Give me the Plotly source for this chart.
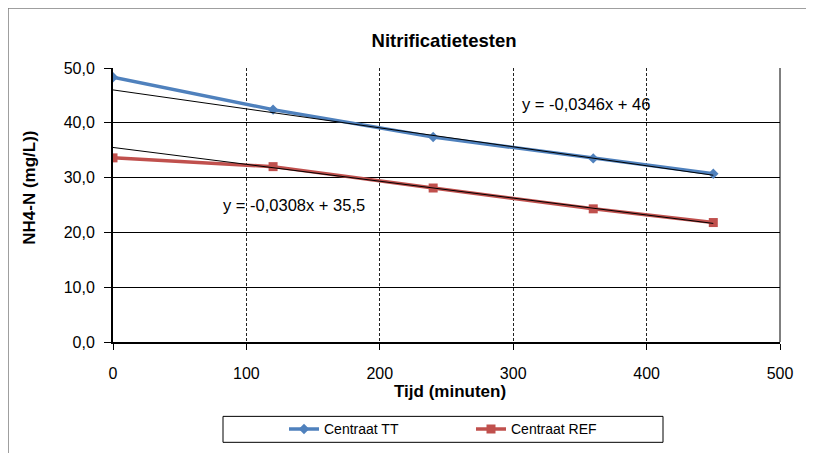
import plotly.graph_objects as go

tijd = [0, 120, 240, 360, 450]
centraat_tt = [48.3, 42.4, 37.4, 33.5, 30.7]
centraat_ref = [33.6, 32.0, 28.1, 24.3, 21.8]
trend_tt = (-0.0346, 46.0)
trend_ref = (-0.0308, 35.5)
trend_x = [0, 450]
eq_tt = "y = -0,0346x + 46"
eq_ref = "y = -0,0308x + 35,5"

OFF = 8  # page body margin
W, H = 806, 445
L, R, T, B = 105, 34, 60, 110.5
pw, ph = W - L - R, H - T - B


def px(xs):
    return (xs - OFF - L) / pw


def py(ys):
    return (H - B - (ys - OFF)) / ph


fig = go.Figure()
fig.add_trace(go.Scatter(x=tijd, y=centraat_tt, mode="lines+markers", name="Centraat TT",
                         line=dict(color="#4F81BD", width=3.5),
                         marker=dict(symbol="diamond", size=8, color="#4F81BD")))
fig.add_trace(go.Scatter(x=tijd, y=centraat_ref, mode="lines+markers", name="Centraat REF",
                         line=dict(color="#C0504D", width=3.5),
                         marker=dict(symbol="square", size=9, color="#C0504D")))
for m, c in (trend_tt, trend_ref):
    fig.add_trace(go.Scatter(x=trend_x, y=[m * x + c for x in trend_x], mode="lines",
                             line=dict(color="black", width=1), showlegend=False, hoverinfo="skip"))

fig.add_annotation(x=px(586), y=py(104), xref="paper", yref="paper", text=eq_tt, showarrow=False,
                   xanchor="center", yanchor="middle",
                   font=dict(family="Liberation Sans, Arial", size=16.5, color="black"))
fig.add_annotation(x=px(294), y=py(205), xref="paper", yref="paper", text=eq_ref, showarrow=False,
                   xanchor="center", yanchor="middle",
                   font=dict(family="Liberation Sans, Arial", size=16.5, color="black"))
# axis titles
fig.add_annotation(x=px(450), y=py(392), xref="paper", yref="paper", text="<b>Tijd (minuten)</b>",
                   showarrow=False, xanchor="center", yanchor="middle",
                   font=dict(family="Liberation Sans, Arial", size=17, color="black"))
fig.add_annotation(x=px(30), y=py(188), xref="paper", yref="paper", text="<b>NH4-N (mg/L))</b>",
                   showarrow=False, xanchor="center", yanchor="middle", textangle=-90,
                   font=dict(family="Liberation Sans, Arial", size=17, color="black"))

# outer chart border
fig.add_shape(type="rect", xref="paper", yref="paper", x0=px(8), x1=px(808), y0=py(470), y1=py(8),
              line=dict(color="#808080", width=1.5), layer="below")
# legend box
fig.add_shape(type="rect", xref="paper", yref="paper", x0=px(223), x1=px(663), y0=py(443), y1=py(417),
              line=dict(color="black", width=1), layer="below")
# right plot-area border
fig.add_shape(type="line", xref="paper", yref="paper", x0=1, x1=1, y0=0, y1=1,
              line=dict(color="black", width=1))

fig.update_layout(
    width=W, height=H,
    margin=dict(l=L, r=R, t=T, b=B, autoexpand=False),
    paper_bgcolor="white", plot_bgcolor="white",
    separators=",.",
    font=dict(family="Liberation Sans, Arial", size=16, color="black"),
    title=dict(text="<b>Nitrificatietesten</b>", x=px(444), xanchor="center", xref="paper",
               y=1 - (41 - OFF) / H, yanchor="middle",
               font=dict(family="Liberation Sans, Arial", size=18.5, color="black")),
    xaxis=dict(range=[0, 500], dtick=100, showgrid=True, gridcolor="#222222", griddash="3px,2px",
               gridwidth=1,
               showline=True, linecolor="black", linewidth=2, mirror=False, zeroline=False,
               ticks="outside", ticklen=6, tickcolor="black", automargin=False,
               ticklabelstandoff=10, tickfont=dict(size=16)),
    yaxis=dict(range=[0, 50], dtick=10, tickformat=".1f", showgrid=True, gridcolor="black", gridwidth=1,
               showline=True, linecolor="black", linewidth=2, zeroline=False,
               ticks="outside", ticklen=7, tickcolor="black", automargin=False,
               ticklabelstandoff=6, tickfont=dict(size=16)),
    legend=dict(orientation="h", x=px(284), xanchor="left", y=py(430), yanchor="middle",
                borderwidth=0, bgcolor="rgba(0,0,0,0)", font=dict(size=14),
                entrywidth=142, entrywidthmode="pixels", itemwidth=30),
    showlegend=True,
)

fig.write_html("out.html")
